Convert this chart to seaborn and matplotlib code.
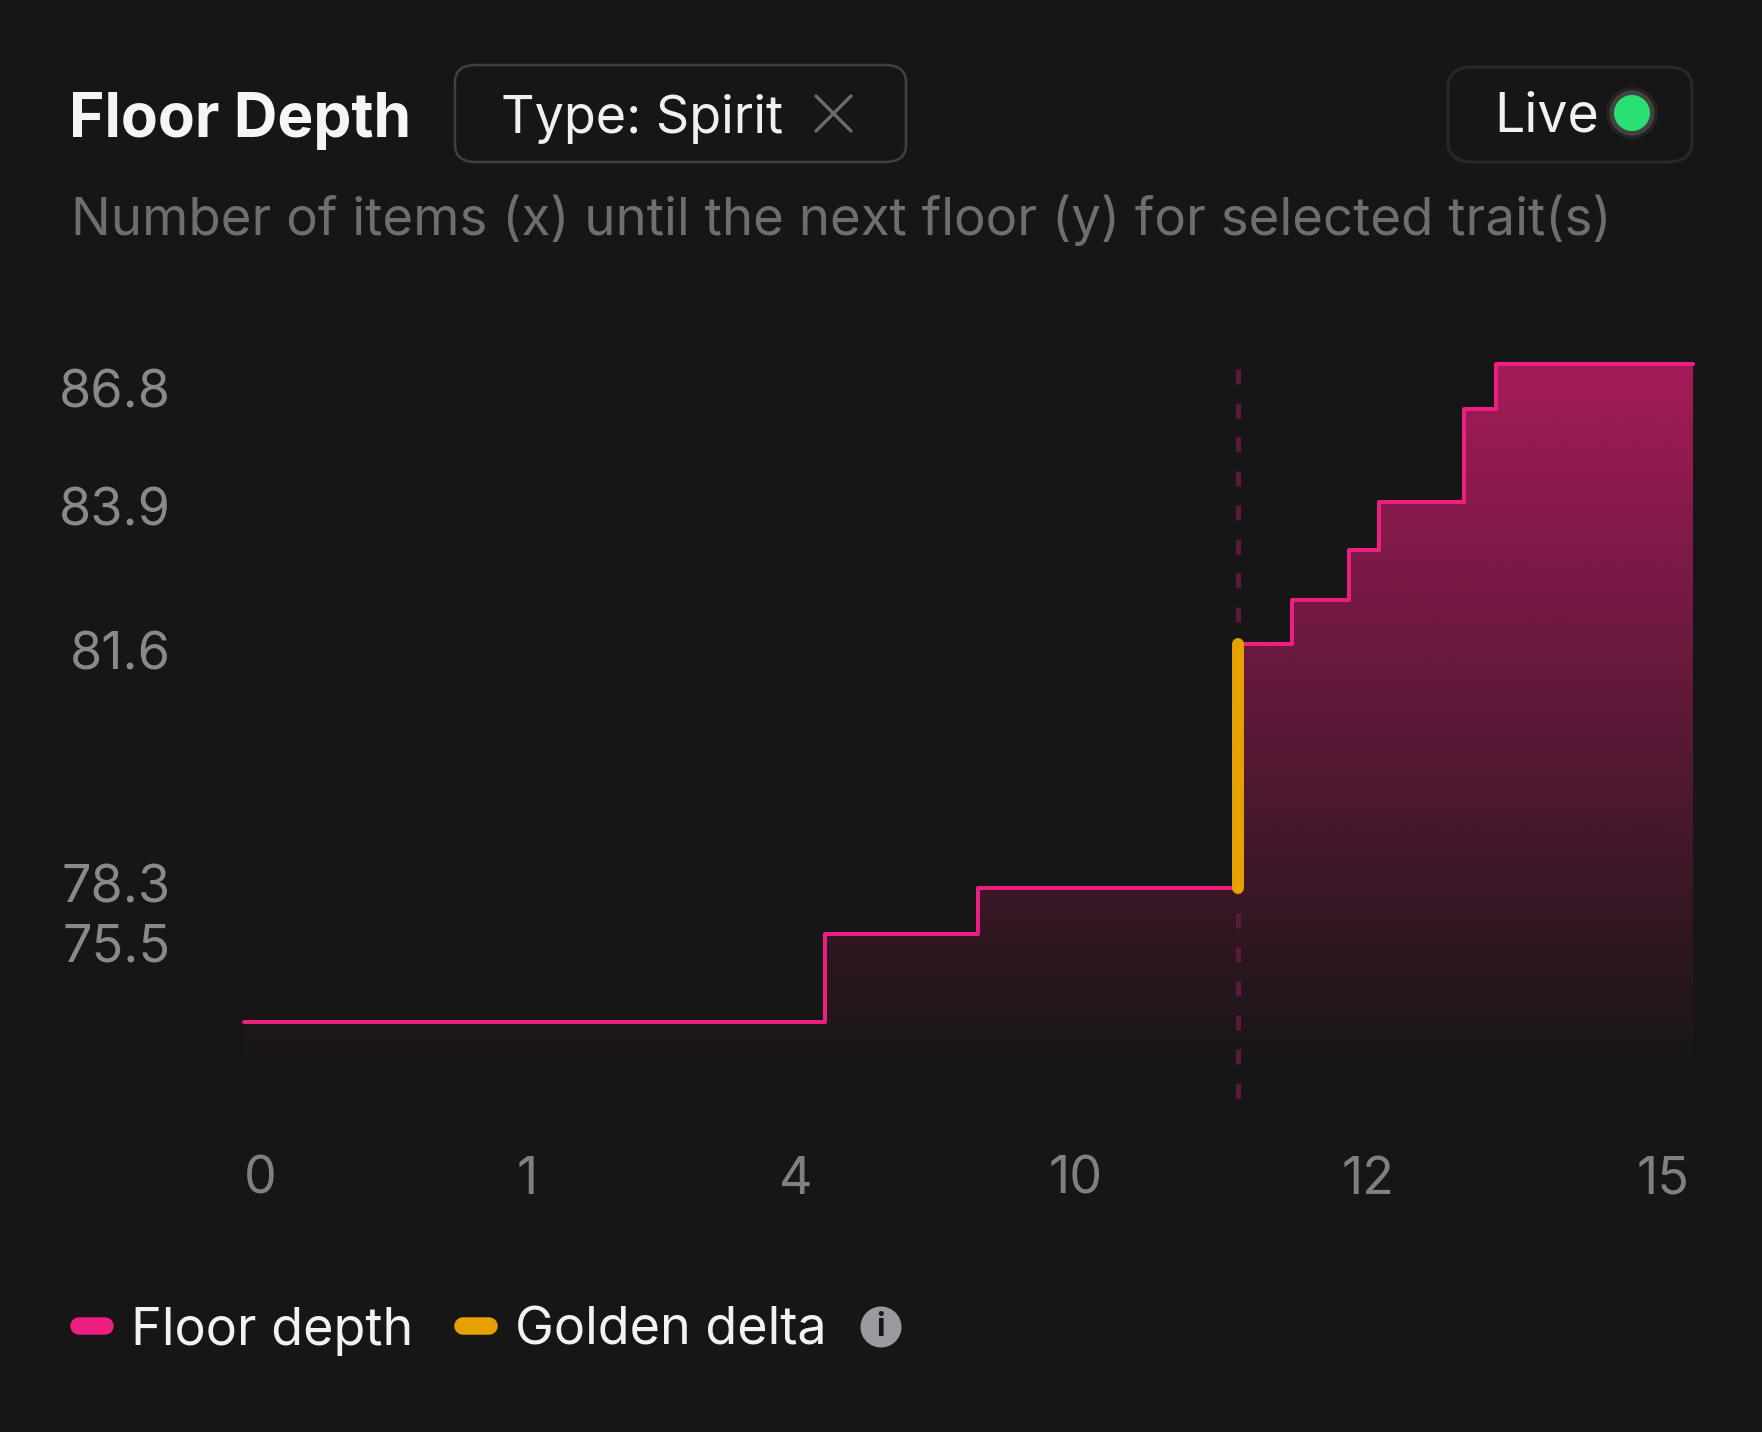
import numpy as np
import pandas as pd
import seaborn as sns
import matplotlib.pyplot as plt
from matplotlib.patches import FancyBboxPatch, Circle
from matplotlib.lines import Line2D

# step data: items until next floor (x) and floor level (y)
item_edges = [-0.06, 4.63, 7.90, 11.11, 11.48, 11.87, 12.11, 12.98, 13.30, 15.31]
floor_levels = [71.7, 75.9, 78.1, 81.7, 82.4, 83.2, 84.0, 86.3, 87.4]

# golden delta jump
golden_x = 11.11
golden_range = [78.1, 81.7]

x_tick_values = [0, 1, 4, 10, 12, 15]
x_tick_labels = ['0', '1', '4', '10', '12', '15']
y_tick_values = [75.5, 78.3, 81.6, 83.9, 86.8]
y_tick_labels = ['75.5', '78.3', '81.6', '83.9', '86.8']

legend_labels = ['Floor depth', 'Golden delta']

# where each tick sits along the axis (fraction of axis length)
x_tick_frac = [0.0115, 0.196, 0.381, 0.574, 0.776, 0.979]
y_tick_frac = [0.182, 0.265, 0.594, 0.797, 0.963]

BG = '#161616'
PINK = '#ec1f80'
GOLD = '#e6a000'
W, H = 1762, 1432


def piecewise_scale(knots, fracs):
    k = np.asarray(knots, float)
    f = np.asarray(fracs, float)
    k_ext = np.r_[k[0] - 100 * (k[1] - k[0]), k, k[-1] + 100 * (k[-1] - k[-2])]
    f_ext = np.r_[f[0] - 100 * (f[1] - f[0]), f, f[-1] + 100 * (f[-1] - f[-2])]
    return (lambda v: np.interp(v, k_ext, f_ext),
            lambda u: np.interp(u, f_ext, k_ext))


def fx(px):
    return px / W


def fy(py):
    return 1 - py / H


def dot(fig, x, y, r, **kw):
    # circle in pixel units (top-left origin), kept round
    c = Circle((x / 100, (H - y) / 100), r / 100, transform=fig.dpi_scale_trans, **kw)
    fig.patches.append(c)
    return c


sns.set_theme(style='dark', rc={'axes.facecolor': BG, 'figure.facecolor': BG,
                                'savefig.facecolor': BG})
plt.rcParams['font.family'] = ['Inter', 'DejaVu Sans']

fig = plt.figure(figsize=(W / 100, H / 100), dpi=100)
ax = fig.add_axes([fx(244), fy(1071), (1693 - 244) / W, (1071 - 362) / H])
for s in ax.spines.values():
    s.set_visible(False)

steps = pd.DataFrame({'items': item_edges,
                      'floor': floor_levels + [floor_levels[-1]]})

# gradient area under the step line
poly = ax.fill_between(steps['items'], steps['floor'], 60, step='post',
                       facecolor='none', edgecolor='none')
grad = np.zeros((256, 1, 4))
grad[..., 0], grad[..., 1], grad[..., 2] = 233 / 255, 30 / 255, 122 / 255
grad[:, 0, 3] = np.linspace(0.68, 0.0, 256)
im = ax.imshow(grad, extent=[0, 1, 0, 1], transform=ax.transAxes,
               aspect='auto', interpolation='bilinear', zorder=1)
im.set_clip_path(poly.get_paths()[0], transform=ax.transData)

# dashed marker at the golden delta
ax.axvline(golden_x, ymin=-0.038, ymax=0.999, color='#5a1a3c', lw=3.6,
           dashes=(3, 3.8), clip_on=False, zorder=2)

sns.lineplot(data=steps, x='items', y='floor', drawstyle='steps-post',
             estimator=None, errorbar=None, color=PINK, linewidth=2.9,
             clip_on=False, zorder=3, ax=ax)

ax.plot([golden_x, golden_x], golden_range, color=GOLD, lw=8.6,
        solid_capstyle='round', zorder=4, clip_on=False)

ax.set_xscale('function', functions=piecewise_scale(x_tick_values, x_tick_frac))
ax.set_yscale('function', functions=piecewise_scale(y_tick_values, y_tick_frac))
ax.set_xlim(item_edges[0], item_edges[-1])
ax.set_ylim(69.38, 87.45)
ax.set_xticks(x_tick_values, labels=x_tick_labels)
ax.set_yticks(y_tick_values, labels=y_tick_labels)
ax.minorticks_off()
ax.set_xlabel('')
ax.set_ylabel('')
ax.grid(False)
ax.tick_params(axis='x', length=0, pad=61, labelsize=37.5, labelcolor='#808080')
ax.tick_params(axis='y', length=0, pad=53, labelsize=37.5, labelcolor='#898989')

# header
fig.text(fx(69), fy(136.7), 'Floor Depth', fontsize=43.5, weight='bold',
         color='#f5f5f5', va='baseline')
fig.patches.append(FancyBboxPatch((fx(455), fy(162)), fx(906 - 455), (162 - 65) / H,
                                  boxstyle='round,pad=0,rounding_size=0.012',
                                  transform=fig.transFigure, facecolor='none',
                                  edgecolor='#404040', lw=1.8))
fig.text(fx(501), fy(132.5), 'Type: Spirit', fontsize=37.5, color='#f0f0f0',
         va='baseline')
fig.add_artist(Line2D([fx(816), fx(851)], [fy(96), fy(131)], color='#6b6b6b',
                      lw=2.4, transform=fig.transFigure))
fig.add_artist(Line2D([fx(816), fx(851)], [fy(131), fy(96)], color='#6b6b6b',
                      lw=2.4, transform=fig.transFigure))

fig.patches.append(FancyBboxPatch((fx(1448), fy(162)), fx(1692 - 1448), (162 - 67) / H,
                                  boxstyle='round,pad=0,rounding_size=0.014',
                                  transform=fig.transFigure, facecolor='none',
                                  edgecolor='#282828', lw=2.2))
fig.text(fx(1494), fy(131), 'Live', fontsize=38.6, color='#f2f2f2', va='baseline')
for r, a in [(26, 0.06), (22.5, 0.14)]:
    dot(fig, 1632, 113, r, facecolor='white', edgecolor='none', alpha=a)
dot(fig, 1632, 113, 18, facecolor='#29e073', edgecolor='none')

fig.text(fx(71), fy(235), 'Number of items (x) until the next floor (y) for selected trait(s)',
         fontsize=38, color='#6e6e6e', va='baseline')

# legend
handles = [Line2D([], [], color=PINK, lw=12.6, solid_capstyle='round'),
           Line2D([], [], color=GOLD, lw=12.6, solid_capstyle='round')]
fig.legend(handles, legend_labels, loc='center left',
           bbox_to_anchor=(fx(78.5), fy(1331)), ncol=2, frameon=False,
           fontsize=37.5, labelcolor='#f2f2f2', handlelength=0.51,
           handletextpad=0.5, columnspacing=0.95, borderpad=0, borderaxespad=0)
dot(fig, 881, 1327, 20.5, facecolor='#9a9a9e', edgecolor='none')
fig.text(fx(881), fy(1328), 'i', fontsize=23, weight='bold', color=BG,
         ha='center', va='center')

fig.savefig('out.png', dpi=100)
